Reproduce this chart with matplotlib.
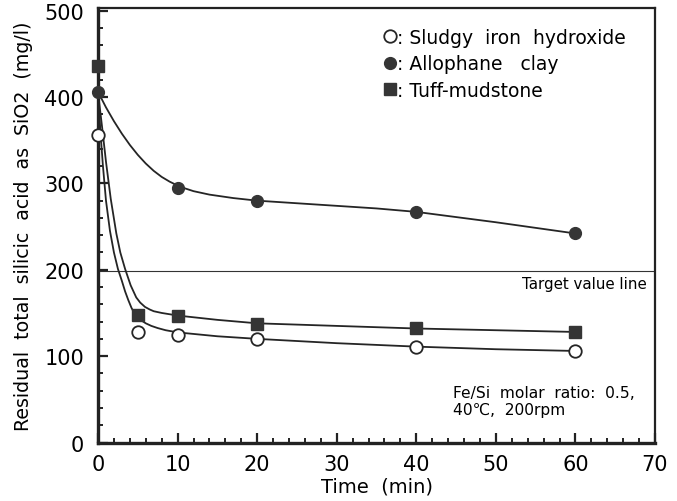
import numpy as np
import matplotlib.pyplot as plt

plt.rcParams['font.family'] = ['DejaVu Sans', 'Noto Sans CJK JP']

# measured points
sludgy_t = [0, 5, 10, 20, 40, 60]
sludgy_v = [356, 128, 125, 120, 111, 106]
allophane_t = [0, 10, 20, 40, 60]
allophane_v = [406, 295, 280, 267, 242]
tuff_t = [0, 5, 10, 20, 40, 60]
tuff_v = [436, 148, 146, 137, 133, 128]

# fitted curves
sludgy_curve_t = [0, 0.3, 0.6, 1.0, 1.5, 2.0, 2.5, 3.0, 3.4, 3.8, 4.2, 4.6, 5.0, 5.5, 6.0, 6.7,
                  7.5, 8.5, 10, 15, 20, 30, 40, 50, 60]
sludgy_curve_v = [405, 360, 322, 280, 245, 220, 201, 187, 175, 165, 156, 149, 145, 141, 138, 135,
                  132.5, 130, 127.5, 123, 120, 115, 111, 108, 106]
tuff_curve_t = [0, 0.5, 1.0, 1.6, 2.3, 2.8, 3.4, 4.1, 4.8, 5.3, 5.9, 6.5, 7, 8, 10, 15, 20, 30,
                40, 50, 60]
tuff_curve_v = [405, 366, 325, 282, 242, 220, 201, 182, 168, 162, 157, 154, 152, 150, 147, 142,
                138, 135, 132, 130, 128]
allophane_curve_t = [0, 1, 2, 3, 4, 5, 6, 7, 8, 9, 10, 11, 12, 14, 17, 20, 25, 30, 35, 40,
                     50, 60]
allophane_curve_v = [406, 388, 372, 357.5, 344.5, 333, 323, 314.5, 307.5, 302, 297.5, 294, 291,
                     287, 283, 280, 277, 274, 271, 267, 255, 242]

target = 199

line_c = '#252525'
fill_c = '#353535'

fig = plt.figure(figsize=(6.77, 5.02), dpi=100)
ax = fig.add_axes([0.1448, 0.1165, 0.8227, 0.8655])

ax.plot(sludgy_curve_t, sludgy_curve_v, color=line_c, lw=1.3, zorder=2)
ax.plot(tuff_curve_t, tuff_curve_v, color=line_c, lw=1.3, zorder=2)
ax.plot(allophane_curve_t, allophane_curve_v, color=line_c, lw=1.3, zorder=2)
ax.axhline(target, color='#333333', lw=0.8, zorder=1)

ax.plot(sludgy_t, sludgy_v, 'o', ms=9, mfc='white', mec=line_c, mew=1.3,
        label=': Sludgy  iron  hydroxide', zorder=4, clip_on=False)
ax.plot(allophane_t, allophane_v, 'o', ms=8.5, mfc=fill_c, mec=fill_c,
        label=': Allophane   clay', zorder=4, clip_on=False)
ax.plot(tuff_t, tuff_v, 's', ms=8.5, mfc=fill_c, mec=fill_c,
        label=': Tuff-mudstone', zorder=4, clip_on=False)

ax.set_xlim(0, 70)
ax.set_ylim(0, 503)
ax.set_xticks(np.arange(0, 71, 10))
ax.set_xticks(np.arange(0, 71, 2), minor=True)
ax.set_yticks(np.arange(0, 501, 100))
ax.set_yticks(np.arange(0, 501, 20), minor=True)
ax.tick_params(which='both', direction='in', top=False, right=False, color='#222222')
ax.tick_params(which='major', length=7, width=1.6, labelsize=15)
ax.tick_params(which='minor', length=3.5, width=1.4)
ax.tick_params(axis='x', which='major', pad=8)
ax.tick_params(axis='y', which='major', pad=10)

for s in ('left', 'bottom'):
    ax.spines[s].set_linewidth(2.4)
for s in ('top', 'right'):
    ax.spines[s].set_linewidth(1.6)
for s in ax.spines.values():
    s.set_color('#222222')

ax.set_xlabel('Time  (min)', fontsize=14, labelpad=2)
ax.set_ylabel('Residual  total  silicic  acid  as  SiO2  (mg/l)', fontsize=13.7, labelpad=8)

leg = ax.legend(loc='upper left', bbox_to_anchor=(0.49, 0.985), frameon=False,
                fontsize=13.5, handlelength=0.6, handletextpad=0.1,
                labelspacing=0.4, borderaxespad=0.3)

ax.text(0.985, 0.365, 'Target value line', transform=ax.transAxes,
        ha='right', va='center', fontsize=10.8)
ax.text(0.637, 0.095, 'Fe/Si  molar  ratio:  0.5,\n40\u2103,  200rpm', transform=ax.transAxes,
        ha='left', va='center', fontsize=11.2, linespacing=1.15)

fig.savefig('out.png', dpi=100)
